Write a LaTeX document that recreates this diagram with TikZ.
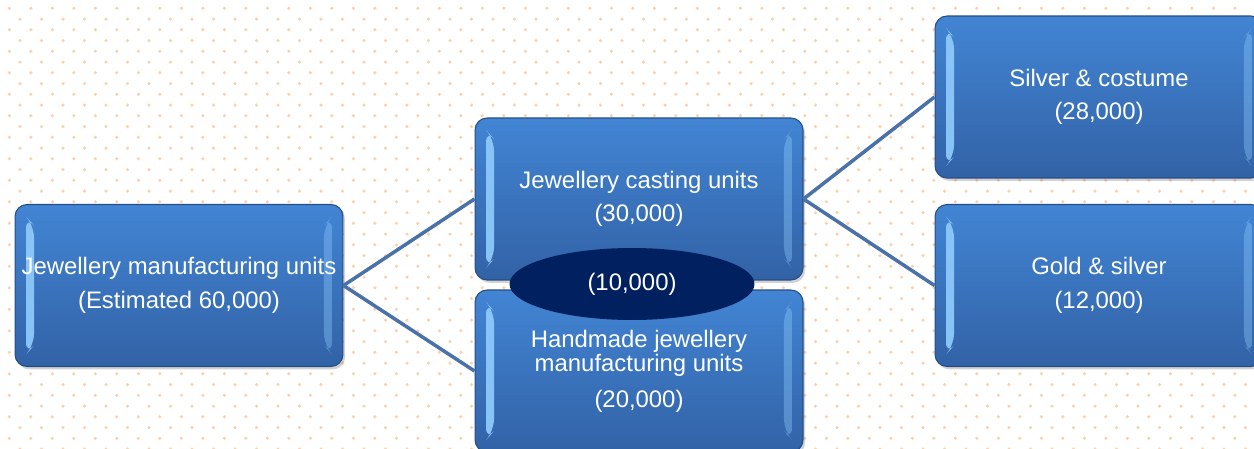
\documentclass[tikz,border=0pt]{standalone}
\usepackage{fontspec}
\setmainfont{Liberation Sans}
\usepackage{tikz}
\usetikzlibrary{positioning}
\usetikzlibrary{shadows}
\usetikzlibrary{shapes.geometric}

\definecolor{boxtop}{RGB}{66,133,212}
\definecolor{boxbot}{RGB}{50,98,166}
\definecolor{boxedge}{RGB}{38,78,132}
\definecolor{bevel}{RGB}{140,200,250}
\definecolor{linkblue}{RGB}{74,114,168}
\definecolor{navyfill}{RGB}{0,32,96}
\definecolor{dotorange}{RGB}{250,210,172}

\begin{document}
\begin{tikzpicture}[x=0.02cm, y=-0.02cm,
    unitbox/.style={rectangle, rounded corners=0.24cm,
        minimum width=6.56cm, minimum height=3.24cm,
        top color=boxtop, bottom color=boxbot, draw=boxedge, line width=0.6pt,
        drop shadow={shadow xshift=1.2pt, shadow yshift=-1.6pt, opacity=0.35},
        text=white, align=center, font=\fontsize{13.6}{19}\selectfont,
        path picture={
            \fill[bevel, opacity=0.95]
                ([xshift=0.22cm,yshift=-0.24cm]path picture bounding box.north west)
                -- ([xshift=0.38cm,yshift=-0.42cm]path picture bounding box.north west)
                -- ([xshift=0.38cm,yshift=0.42cm]path picture bounding box.south west)
                -- ([xshift=0.22cm,yshift=0.24cm]path picture bounding box.south west) -- cycle;
            \fill[bevel, opacity=0.4]
                ([xshift=-0.22cm,yshift=-0.24cm]path picture bounding box.north east)
                -- ([xshift=-0.38cm,yshift=-0.42cm]path picture bounding box.north east)
                -- ([xshift=-0.38cm,yshift=0.42cm]path picture bounding box.south east)
                -- ([xshift=-0.22cm,yshift=0.24cm]path picture bounding box.south east) -- cycle;
        }},
    overlap/.style={ellipse, minimum width=4.9cm, minimum height=1.44cm, inner sep=0pt,
        fill=navyfill, text=white, font=\fontsize{13.6}{19}\selectfont},
    link/.style={linkblue, line width=2pt}]

    \useasboundingbox (0,0) rectangle (1254,449);
    \clip (0,0) rectangle (1254,449);
    \fill[white] (0,0) rectangle (1254,449);

    % dotted paper
    \foreach \r in {0,...,41}
        \foreach \c in {0,...,58}
            \fill[dotorange] ({9.3+21.5*\c+10.7*mod(\r,2)},{8.3+10.75*\r}) circle (0.035cm);

    \node[unitbox] (total) at (179,285.5) {Jewellery manufacturing units\\(Estimated 60,000)};
    \node[unitbox] (casting) at (639,199) {Jewellery casting units\\(30,000)};
    \node[unitbox] (handmade) at (639,371) {Handmade jewellery\\[-5.5pt]manufacturing units\\[1.5pt](20,000)};
    \node[unitbox] (silver) at (1099,97) {Silver \& costume\\(28,000)};
    \node[unitbox] (gold) at (1099,285.5) {Gold \& silver\\(12,000)};

    \node[overlap] (both) at (632,284) {(10,000)};

    % connectors
    \draw[link] (total.east) -- (casting.west);
    \draw[link] (total.east) -- (handmade.west);
    \draw[link] (casting.east) -- (silver.west);
    \draw[link] (casting.east) -- (gold.west);
\end{tikzpicture}
\end{document}
